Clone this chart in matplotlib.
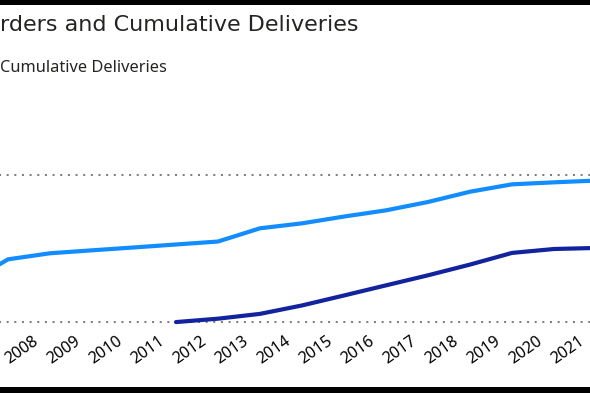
import matplotlib
matplotlib.use("Agg")
import matplotlib.pyplot as plt
import matplotlib.transforms as mtransforms
from matplotlib.patches import Rectangle

############### Data ###############
years = [2006, 2007, 2008, 2009, 2010, 2011, 2012, 2013, 2014, 2015, 2016, 2017, 2018, 2019, 2020, 2021]
# the first two labels sit outside the cropped view, so they stay empty
year_labels = ["", ""] + [str(y) for y in years[2:]]

# cumulative orders (light blue line)
cum_orders = [520, 852, 934, 974, 1013, 1053, 1093, 1272, 1339, 1431, 1515, 1628, 1767, 1867, 1894, 1918]

# cumulative deliveries (dark blue line), starts in 2011
delivery_years = [2011, 2012, 2013, 2014, 2015, 2016, 2017, 2018, 2019, 2020, 2021]
cum_deliveries = [3, 49, 114, 228, 363, 500, 636, 781, 939, 992, 1006]

grid_values = [0, 2000]

# texts as they show in the cropped screenshot
title_text = "rders and Cumulative Deliveries"
legend_text = "Cumulative Deliveries"

############### Figure ###############
W, H = 590, 393
DPI = 100
fig = plt.figure(figsize=(W / DPI, H / DPI), dpi=DPI)
fig.patch.set_facecolor("white")

# helper: pixel box (from top-left) -> figure fraction
def px_axes(left, top, right, bottom):
    return [left / W, 1 - bottom / H, (right - left) / W, (bottom - top) / H]

# the visual is a crop of a wider chart, so the axes run past the figure edges
x_lo, x_hi = 2005.5, 2021.5
step = 42.0
ax_left = 8 - (2007 - x_lo) * step
ax_right = ax_left + (x_hi - x_lo) * step
ax = fig.add_axes(px_axes(ax_left, 174.5, ax_right, 322.3))
ax.set_xlim(x_lo, x_hi)
ax.set_ylim(grid_values[0], grid_values[-1])

for s in ax.spines.values():
    s.set_visible(False)

# dotted gridlines
for g in grid_values:
    ax.axhline(g, color="#7f7f7f", linewidth=1.45, linestyle=(0, (1, 2.8)),
               dash_capstyle="butt", zorder=1, clip_on=False)

ax.plot(years, cum_orders, color="#118DFF", linewidth=3.0,
        solid_joinstyle="round", solid_capstyle="butt", zorder=3, clip_on=False)
ax.plot(delivery_years, cum_deliveries, color="#12239E", linewidth=3.0,
        solid_joinstyle="round", solid_capstyle="round", zorder=3, clip_on=False)

ax.set_yticks(grid_values)
ax.set_yticklabels([])
ax.tick_params(axis="y", length=0)

ax.set_xticks(years)
ax.set_xticklabels(year_labels, rotation=35, ha="right", rotation_mode="anchor",
                   fontsize=11.5, family="Noto Sans", color="#000000")
ax.tick_params(axis="x", length=0, pad=8)
shift = mtransforms.ScaledTranslation(-18 / DPI, 0, fig.dpi_scale_trans)
for lab in ax.get_xticklabels():
    lab.set_transform(lab.get_transform() + shift)

# title and legend text (their left parts lie outside the crop)
fig.text(0.5 / W, 1 - 31 / H, title_text, ha="left", va="baseline",
         fontsize=16, family="DejaVu Sans", color="#252423")
fig.text(0.5 / W, 1 - 72.5 / H, legend_text, ha="left", va="baseline",
         fontsize=11.8, family="Noto Sans", color="#252423")

# black bands at top and bottom of the screenshot
fig.patches.append(Rectangle((0, 1 - 4.7 / H), 1, 4.7 / H, transform=fig.transFigure,
                             facecolor="black", edgecolor="none", zorder=10))
fig.patches.append(Rectangle((0, 0), 1, 6 / H, transform=fig.transFigure,
                             facecolor="black", edgecolor="none", zorder=10))

fig.savefig("out.png", dpi=DPI, facecolor="white")
